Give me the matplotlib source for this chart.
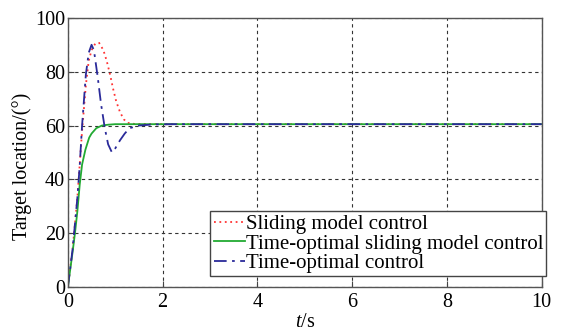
import matplotlib
matplotlib.use("Agg")
import matplotlib.pyplot as plt

plt.rcParams['font.family'] = ['Liberation Serif', 'DejaVu Serif']
plt.rcParams['mathtext.fontset'] = 'custom'
plt.rcParams['mathtext.rm'] = 'Liberation Serif'
plt.rcParams['mathtext.it'] = 'Liberation Serif:italic'

# Sliding model control (red dotted)
t_red = [0, 0.1, 0.2, 0.3, 0.38, 0.44, 0.5, 0.58, 0.66, 0.75, 0.82, 0.89, 0.95, 1.02, 1.1, 1.18, 1.26, 1.4, 2.0, 10]
y_red = [0, 14, 33, 58, 75, 84, 88, 90.5, 90.7, 88, 84, 79, 74, 69, 65, 62.3, 61, 60.6, 60.5, 60.5]

# Time-optimal sliding model control (green solid)
t_green = [0, 0.1, 0.15, 0.2, 0.25, 0.3, 0.37, 0.45, 0.5, 0.6, 0.72, 0.85, 1.0, 2.0, 10]
y_green = [0, 13, 20, 28, 38, 45.5, 51, 55.5, 57, 59, 60, 60.3, 60.5, 60.5, 60.5]

# Time-optimal control (blue dash-dot)
t_blue = [0, 0.1, 0.2, 0.25, 0.3, 0.38, 0.44, 0.5, 0.55, 0.63, 0.7, 0.78, 0.85, 0.93, 1.0, 1.1, 1.2, 1.3, 1.5, 1.8, 2.2, 10]
y_blue = [0, 14, 33, 45, 60, 79, 87, 90, 88, 78, 68, 59, 53, 50, 51.5, 54.5, 57, 59, 60, 60.4, 60.5, 60.5]

labels = ['Sliding model control', 'Time-optimal sliding model control', 'Time-optimal control']
xticks = [0, 2, 4, 6, 8, 10]
yticks = [0, 20, 40, 60, 80, 100]

fig = plt.figure(figsize=(5.8, 3.31), dpi=100)
ax = fig.add_axes([0.117, 0.133, 0.817, 0.813])

ax.plot(t_red, y_red, color='#ff3333', lw=1.3, linestyle=(0, (1, 2)), label=labels[0])
ax.plot(t_green, y_green, color='#22aa33', lw=1.3, label=labels[1])
ax.plot(t_blue, y_blue, color='#2a2a9a', lw=1.3, linestyle=(0, (7, 3, 1.5, 3)), label=labels[2])

ax.set_xlim(0, 10)
ax.set_ylim(0, 100)
ax.set_xticks(xticks)
ax.set_yticks(yticks)
ax.tick_params(direction='in', labelsize=14.5, length=4, color='#444')
ax.tick_params(axis='x', pad=4)
ax.tick_params(axis='y', pad=2)
for s in ax.spines.values():
    s.set_color('#555')
    s.set_linewidth(1.0)
ax.grid(True, color='#333', linestyle=(0, (3, 3)), linewidth=0.8)

ax.set_xlabel('$t$/s', fontsize=14.5, labelpad=1)
ax.set_ylabel('Target location/(°)', fontsize=14.5)
ax.yaxis.set_label_coords(-0.075, 0.45)

leg = ax.legend(loc='lower right', bbox_to_anchor=(1.01, 0.04), fontsize=15, handlelength=1.5,
                handletextpad=0.05, borderpad=0.15, labelspacing=0.0, fancybox=False, framealpha=1,
                edgecolor='#444', borderaxespad=0.0)
leg.get_frame().set_linewidth(1.0)

fig.savefig('out.png', dpi=100)
